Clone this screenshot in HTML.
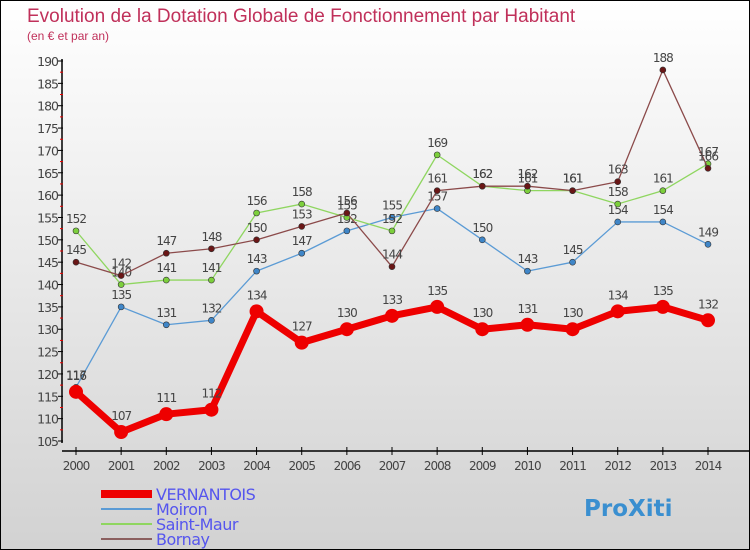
<!DOCTYPE html>
<html><head><meta charset="utf-8"><style>
body{margin:0}
#c{width:748px;height:548px;border:1px solid #000;background:linear-gradient(#fff,#d2d2d2);position:relative;font-family:"DejaVu Sans","Liberation Sans",sans-serif}
</style></head><body>
<div id="c">
<svg id="s" width="748" height="548" style="position:absolute;left:0;top:0">
<text x="26" y="21" font-size="19" fill="#c0305a" style="font-family:'Liberation Sans',sans-serif">Evolution de la Dotation Globale de Fonctionnement par Habitant</text>
<text x="26" y="39" font-size="12" fill="#c0305a" style="font-family:'Liberation Sans',sans-serif">(en € et par an)</text>
</svg>
</div>
<script>
const years=[2000,2001,2002,2003,2004,2005,2006,2007,2008,2009,2010,2011,2012,2013,2014];
const vernantois=[116,107,111,112,134,127,130,133,135,130,131,130,134,135,132];
const moiron=[117,135,131,132,143,147,152,155,157,150,143,145,154,154,149];
const saintMaur=[152,140,141,141,156,158,155,152,169,162,161,161,158,161,167];
const bornay=[145,142,147,148,150,153,156,144,161,162,162,161,163,188,166];
const yTicks=[105,110,115,120,125,130,135,140,145,150,155,160,165,170,175,180,185,190];
const NS='http://www.w3.org/2000/svg';
const svg=document.getElementById('s');
const X=i=>75+i*(632/14);
const Y=v=>60+(190-v)*(380/85);
function el(t,a,p){const e=document.createElementNS(NS,t);for(const k in a)e.setAttribute(k,a[k]);(p||svg).appendChild(e);return e;}
const ax=el('g',{});


const ya=el('line',{x1:61,y1:58,x2:61,y2:442,stroke:'#000','stroke-width':1.5},ax);


const xa=el('line',{x1:61,y1:450,x2:748,y2:450,stroke:'#000','stroke-width':1.5},ax);


yTicks.forEach(v=>{
  el('line',{x1:57,y1:Y(v),x2:62,y2:Y(v),stroke:'#000'},ax);
  if(v<190)el('line',{x1:59,y1:Y(v+2.5),x2:62,y2:Y(v+2.5),stroke:'#e00'},ax);
  const t=el('text',{x:57,y:Y(v)+5,'font-size':12.5,fill:'#444','text-anchor':'end','letter-spacing':'-1'},ax);
  t.textContent=v;
  
  
});
years.forEach((y,i)=>{
  el('line',{x1:X(i),y1:446,x2:X(i),y2:454,stroke:'#000'},ax);
  const t=el('text',{x:X(i),y:469,'font-size':12,fill:'#444','text-anchor':'middle','letter-spacing':'-1'},ax);
  t.textContent=y;
  
  
});
function series(data,color,w,r,dot,name){
  const g=el('g',{});
  
  
  el('polyline',{points:data.map((v,i)=>X(i)+','+Y(v)).join(' '),fill:'none',stroke:color,'stroke-width':w,'stroke-linejoin':'round'},g);
  data.forEach((v,i)=>{
    const c=el('circle',{cx:X(i),cy:Y(v),r:r,fill:dot,stroke:'#333','stroke-width':r>5?0:0.6},g);
    
    
    const t=el('text',{x:X(i),y:Y(v)-(r>5?12:8),'font-size':12,fill:'#444','text-anchor':'middle','letter-spacing':'-1'},g);
    t.textContent=v;
    
    
  });
}
series(moiron,'#5b9bd5',1.3,3,'#3f86c8','moiron');
series(saintMaur,'#8fd660',1.3,3,'#7ccf3c','saint-maur');
series(bornay,'#8b4a4a',1.3,3,'#6a1616','bornay');
series(vernantois,'#ee0000',7,7,'#ee0000','vernantois');
const lg=el('g',{});


[['VERNANTOIS','#ee0000',8],['Moiron','#5b9bd5',2],['Saint-Maur','#8fd660',2],['Bornay','#8b6060',2]].forEach((d,i)=>{
  const yy=493+i*15;
  el('line',{x1:100,y1:yy,x2:151,y2:yy,stroke:d[1],'stroke-width':d[2]},lg);
  const t=el('text',{x:155,y:yy+6,'font-size':16,fill:'#5555ee','letter-spacing':'-0.5'},lg);
  t.textContent=d[0];
  
  
});
const p=el('text',{x:583,y:515,'font-size':23,'font-weight':'bold',fill:'#3a8fd0'});
p.textContent='ProXiti';


</script>
</body></html>
